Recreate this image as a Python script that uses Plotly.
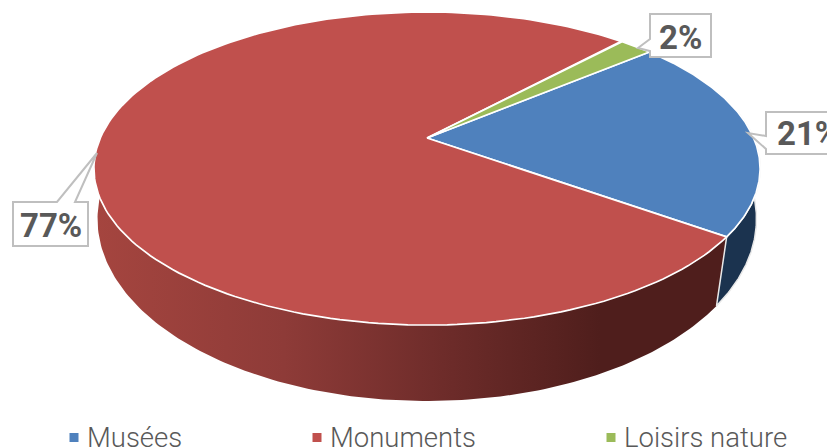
import numpy as np
import plotly.graph_objects as go

categories = ["Musées", "Monuments", "Loisirs nature"]
values = [21, 77, 2]
labels = ["21%", "77%", "2%"]
colors = ["#4F81BD", "#C0504D", "#9BBB59"]

W, H = 827, 448
CX, CY = 427, 138
A, B, K = 326.7, 150.6, -0.195
START = 50.0
BCY, BA, BB, BK = 192.6, 326.0, 178.2, -0.145


def proj(deg, cy, a, b, k):
    t = np.radians(deg)
    u, v = np.sin(t), -np.cos(t)
    d = 1 + k * v
    return CX + a * u / d, cy + b * v / d


def top_xy(deg):
    return proj(deg, CY, A, B, K)


def bottom_xy(deg):
    return proj(deg, BCY, BA, BB, BK)


frac = np.cumsum([0] + values) / sum(values) * 360 + START
fig = go.Figure()


def wall(a0, a1, **kw):
    th = np.linspace(a0, a1, 160)
    tx, ty = top_xy(th)
    bx, by = bottom_xy(th)
    fig.add_trace(go.Scatter(
        x=np.r_[tx, bx[::-1]], y=np.r_[ty, by[::-1]], mode="lines", fill="toself",
        showlegend=False, hoverinfo="skip", **kw))


# side walls
wall(frac[1], 282, line=dict(width=0, color="rgba(0,0,0,0)"),
     fillgradient=dict(type="horizontal", colorscale=[
         [0, "#A5453F"], [0.3, "#8E3B38"], [0.55, "#6E2C2A"], [0.8, "#4F1E1C"], [1, "#4F1E1C"]]))
wall(80, frac[1], line=dict(width=1.5, color="#E8E8E8"), fillcolor="#1B334F")

# top face
for i, name in enumerate(categories):
    th = np.linspace(frac[i], frac[i + 1], 200)
    x, y = top_xy(th)
    fig.add_trace(go.Scatter(
        x=np.r_[CX, x, CX], y=np.r_[CY, y, CY], mode="lines", fill="toself",
        fillcolor=colors[i], line=dict(color="white", width=1.7),
        name=name, text=labels[i], hoverinfo="name+text", showlegend=False))

# legend-like keys
legend_x = [74, 317, 611]
text_x = [87, 330, 624]
legend_y = 437.5
for i, name in enumerate(categories):
    fig.add_trace(go.Scatter(
        x=[legend_x[i]], y=[legend_y], mode="markers",
        marker=dict(symbol="square", size=9, color=colors[i]),
        showlegend=False, hoverinfo="skip"))

callouts = [
    [(766, 112), (840, 112), (840, 154), (766, 154), (766, 149), (748, 133), (766, 136)],
    [(13, 202), (57, 202), (97, 153), (75, 202), (88, 202), (88, 246), (13, 246)],
    [(650, 14), (711, 14), (711, 57), (650, 57), (650, 51), (638, 48), (650, 39)],
]
label_xy = [(775, 133), (51, 225), (680, 37)]
shapes = []
for pts in callouts:
    path = "M " + " L ".join(f"{px},{py}" for px, py in pts) + " Z"
    shapes.append(dict(type="path", path=path, xref="x", yref="y", fillcolor="white",
                       line=dict(color="#BFBFBF", width=2), layer="above"))

annotations = []
for i, lab in enumerate(labels):
    annotations.append(dict(
        x=label_xy[i][0], y=label_xy[i][1], xref="x", yref="y", text=lab, showarrow=False,
        xanchor="left" if i == 0 else "center", yanchor="middle",
        font=dict(family="Roboto", size=33, color="#595959", weight="bold")))
for i, name in enumerate(categories):
    annotations.append(dict(
        x=text_x[i], y=legend_y, xref="x", yref="y", text=name, showarrow=False,
        xanchor="left", yanchor="middle", xshift=-2,
        font=dict(family="Roboto", size=27.5, color="#595959", weight=300)))

fig.update_layout(
    width=W, height=H, margin=dict(l=0, r=0, t=0, b=0), showlegend=False,
    paper_bgcolor="white", plot_bgcolor="white",
    xaxis=dict(range=[0, W], visible=False, fixedrange=True),
    yaxis=dict(range=[H, 0], visible=False, fixedrange=True),
    shapes=shapes, annotations=annotations,
)
fig.write_html("out.html", config={"displayModeBar": False},
               post_script="document.body.style.margin='0';document.body.style.overflow='hidden';")
